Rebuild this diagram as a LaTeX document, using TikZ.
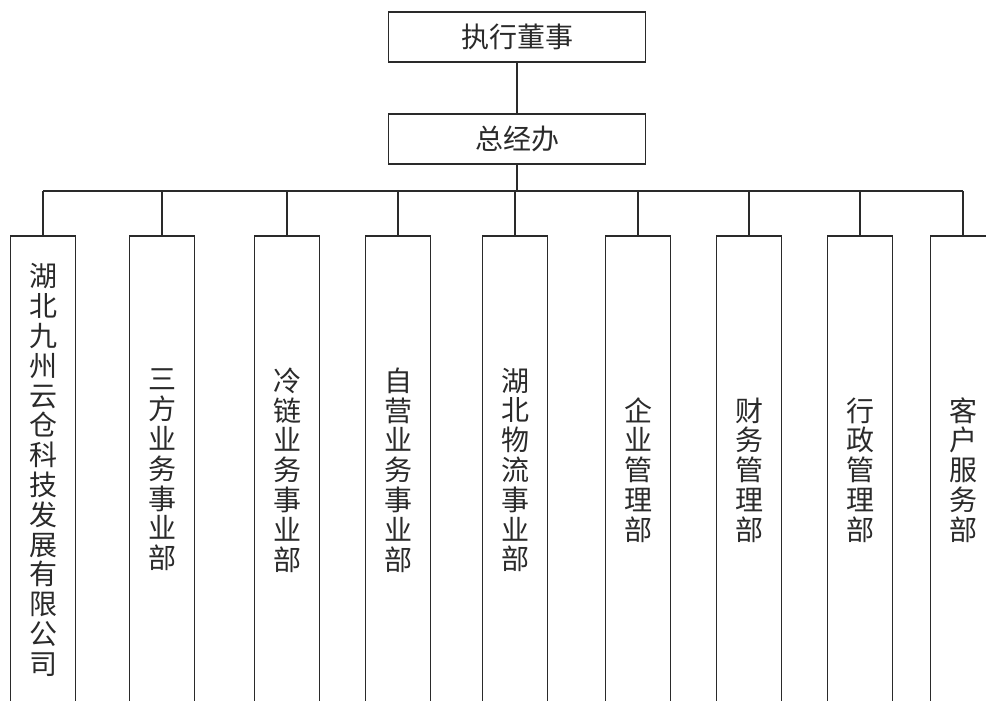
\documentclass[tikz,border=0pt]{standalone}
\usepackage{fontspec}
\newfontfamily\cjk{Noto Sans CJK SC}
\usepackage{tikz}
\usetikzlibrary{positioning,calc}
\definecolor{InkGray}{HTML}{2A2A2A}
\tikzset{
  headbox/.style={draw=InkGray,line width=1.3pt,minimum width=257pt,minimum height=50pt,
    inner sep=0pt,font=\cjk\fontsize{28}{30}\selectfont,text=InkGray},
  deptbox/.style={draw=InkGray,line width=1.3pt,minimum width=65pt,minimum height=468pt,
    inner sep=0pt,align=center,font=\cjk\fontsize{28}{29.8}\selectfont,text=InkGray},
  link/.style={draw=InkGray,line width=1.2pt},
}
\begin{document}
\begin{tikzpicture}[x=1pt,y=-1pt]
\useasboundingbox (0,0) rectangle (986,701);
\clip (0,0) rectangle (986,701);
\fill[white] (0,0) rectangle (986,701);

% top of the chart
\node[headbox] (exec) at (517,37) {执行董事};
\node[headbox] (office) at (517,139) {总经办};
\draw[link] (exec) -- (office);

% departments
\node[deptbox] (d1) at (43,470) {湖\\北\\九\\州\\云\\仓\\科\\技\\发\\展\\有\\限\\公\\司};
\node[deptbox] (d2) at (162,470) {三\\方\\业\\务\\事\\业\\部};
\node[deptbox] (d3) at (287,470) {冷\\链\\业\\务\\事\\业\\部};
\node[deptbox] (d4) at (398,470) {自\\营\\业\\务\\事\\业\\部};
\node[deptbox] (d5) at (515,470) {湖\\北\\物\\流\\事\\业\\部};
\node[deptbox] (d6) at (638,470) {企\\业\\管\\理\\部};
\node[deptbox] (d7) at (749,470) {财\\务\\管\\理\\部};
\node[deptbox] (d8) at (860,470) {行\\政\\管\\理\\部};
\node[deptbox] (d9) at (963,470) {客\\户\\服\\务\\部};

% bus
\coordinate (busL) at (43,191);
\coordinate (busR) at (963,191);
\coordinate (busM) at (517,191);
\draw[link] (office.south) -- (busM);
\draw[link] (busL) -- (busR);
\foreach \d in {d1,d2,d3,d4,d5,d6,d7,d8,d9}{
  \draw[link] (\d.north |- busM) -- (\d.north);}
\end{tikzpicture}
\end{document}
